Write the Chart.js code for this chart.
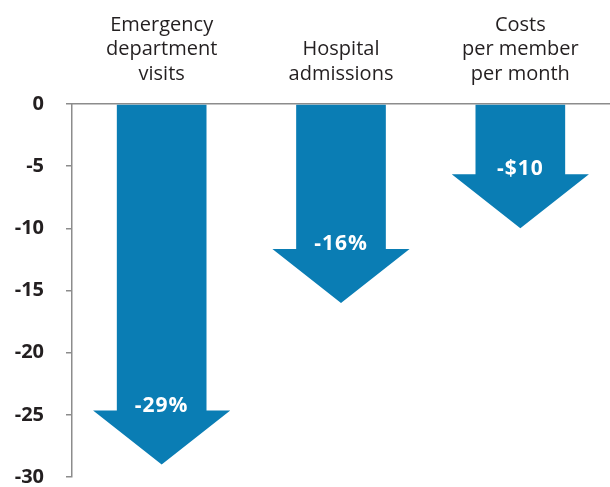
<!DOCTYPE html>
<html>
<head>
<meta charset="utf-8">
<script src="https://cdn.jsdelivr.net/npm/chart.js@4.4.1/dist/chart.umd.min.js"></script>
<style>
  body { margin: 0; background: #fff; }
  #wrap { width: 610px; height: 487px; }
</style>
</head>
<body>
<div id="wrap"><canvas id="myChart"></canvas></div>
<script>
// chart values
const categories = [
  ['Emergency', 'department', 'visits'],
  ['Hospital', 'admissions'],
  ['Costs', 'per member', 'per month']
];
const changes = [-29, -16, -10];
const changeLabels = ['-29%', '-16%', '-$10'];
const yMin = -30;
const yMax = 0;
const yStep = 5;

const arrowBlue = '#0a7db4';
const axisGrey = '#8c8c8c';
const textDark = '#231f20';

// draws each bar as a down arrow, head ends at the bar value
const arrowPlugin = {
  id: 'arrows',
  afterDatasetsDraw(chart) {
    const ctx = chart.ctx;
    const meta = chart.getDatasetMeta(0);
    const headH = 54;
    meta.data.forEach((bar, i) => {
      const w = bar.width;
      const hw = w * 1.53;
      const x = bar.x, tip = bar.y, base = bar.base;
      const headTop = tip - headH;
      ctx.save();
      ctx.fillStyle = arrowBlue;
      ctx.beginPath();
      ctx.moveTo(x - w / 2, base);
      ctx.lineTo(x + w / 2, base);
      ctx.lineTo(x + w / 2, headTop);
      ctx.lineTo(x + hw / 2, headTop);
      ctx.lineTo(x, tip);
      ctx.lineTo(x - hw / 2, headTop);
      ctx.lineTo(x - w / 2, headTop);
      ctx.closePath();
      ctx.fill();

      ctx.fillStyle = '#ffffff';
      ctx.font = 'bold 21px "Open Sans"';
      ctx.letterSpacing = '1px';
      ctx.textAlign = 'center';
      ctx.textBaseline = 'alphabetic';
      ctx.fillText(changeLabels[i], x, headTop + 1);
      ctx.restore();
    });
  }
};

var ctx = document.getElementById('myChart');
var myChart = new Chart(ctx, {
  type: 'bar',
  data: {
    labels: categories,
    datasets: [{
      data: changes,
      backgroundColor: 'rgba(0,0,0,0)',
      barPercentage: 0.5,
      categoryPercentage: 1.0
    }]
  },
  options: {
    responsive: true,
    maintainAspectRatio: false,
    animation: false,
    events: [],
    layout: { padding: { top: 0, right: 0, bottom: 10, left: 0 } },
    plugins: {
      legend: { display: false },
      tooltip: { enabled: false }
    },
    scales: {
      x: {
        position: 'top',
        grid: { display: false, drawTicks: false },
        border: { display: true, color: axisGrey, width: 1.5 },
        ticks: {
          color: textDark,
          font: { family: 'Open Sans', size: 20, lineHeight: 1.22 },
          padding: 18,
          maxRotation: 0
        },
        afterFit: function(s) { s.height = 104; }
      },
      y: {
        min: yMin,
        max: yMax,
        grid: { drawOnChartArea: false, color: axisGrey, tickLength: 6, lineWidth: 1.5 },
        border: { display: true, color: axisGrey, width: 1.5 },
        ticks: {
          stepSize: yStep,
          color: textDark,
          font: { family: 'Open Sans', size: 20, weight: 'bold' },
          padding: 22
        },
        afterFit: function(s) {
          s.width = 72;
          s.paddingTop = 0;
          s.paddingBottom = 0;
        }
      }
    }
  },
  plugins: [arrowPlugin]
});
</script>
</body>
</html>
